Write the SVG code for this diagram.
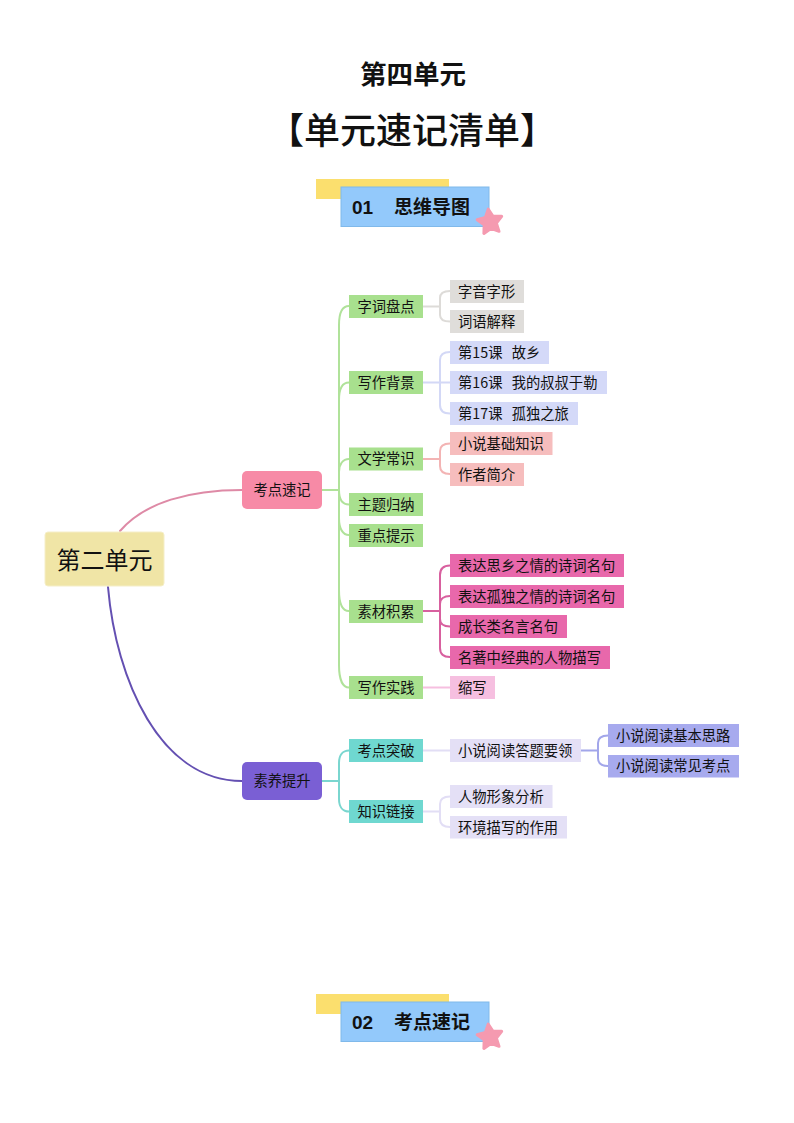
<svg xmlns="http://www.w3.org/2000/svg" width="794" height="1123" viewBox="0 0 794 1123">
<style>
text{font-family:"Noto Sans CJK SC","Liberation Sans",sans-serif;fill:#111;white-space:pre}
.t{font-size:14.300px}
.c{text-anchor:middle}
.l{fill:none;stroke-width:2;stroke-linecap:round}
.g{fill:#a8e08e}
.teal{fill:#6fd8d0}
.grey{fill:#dfddda}
.blue{fill:#d4d9f8}
.rose{fill:#f6bdbd}
.mag{fill:#e868ab}
.lp{fill:#f6bfe0}
.lav{fill:#e4e0f6}
.per{fill:#a7aaee}
.by{fill:#fbdf6e}
.bb{fill:#93c9fb;stroke:#80b9ea;stroke-width:1}
.bt{font-size:19px;font-weight:700}
.star{fill:#f59ab0;stroke:#f59ab0;stroke-width:3;stroke-linejoin:round}
</style>
<defs>
<path id="starShape" d="M-1.81-12.87L3.05-5.74L11.68-5.7L6.4 1.13L9.03 9.35L.9 6.44L-6.1 11.48L-5.84 2.85L-12.8-2.26L-4.52-4.68Z"/>
</defs>

<g id="titles">
<text x="413" y="84" class="c" style="font-size:26.500px;font-weight:700">第四单元</text>
<text x="412" y="144" class="c" style="font-size:36px;font-weight:500">【单元速记清单】</text>
</g>

<g id="banner-1">
<rect class="by" x="316" y="179" width="133" height="20"/>
<rect class="bb" x="341" y="187" width="148" height="39.500"/>
<text class="bt" x="352" y="214" style="font-family:'Liberation Sans',sans-serif">01</text>
<text class="bt" x="394" y="214">思维导图</text>
<use href="#starShape" class="star" x="490" y="222"/>
</g>

<g id="connectors">
<path class="l" stroke="#de8aa6" d="M120 531C145 502 190 490 242 490"/>
<path class="l" stroke="#6450b2" d="M108 587C116 680 160 781 242 781"/>
<g stroke="#b0e29a">
<path class="l" d="M322 490H338"/>
<path class="l" d="M349 306C343 306 339 312 339 325V490"/>
<path class="l" d="M349 382.500C343 382.500 339 388 339 400V490"/>
<path class="l" d="M349 459C343 459 339 464 339 472V490"/>
<path class="l" d="M349 504.500C343 504.500 339 500 339 490"/>
<path class="l" d="M349 535C343 535 339 529 339 518V490"/>
<path class="l" d="M349 611C343 611 339 604 339 590V490"/>
<path class="l" d="M349 687.500C343 687.500 339 680 339 665V490"/>
</g>
<g stroke="#7ad6cf">
<path class="l" d="M322 781H339"/>
<path class="l" d="M349 750.500C343 750.500 339 755 339 763V781"/>
<path class="l" d="M349 811.500C343 811.500 339 807 339 799V781"/>
</g>
<g stroke="#dddbd8">
<path class="l" d="M423 306.500H440"/>
<path class="l" d="M450 291C443 291 440 294 440 298V315C440 319 443 321.500 450 321.500"/>
</g>
<g stroke="#d3d8f6">
<path class="l" d="M423 382.500H450"/>
<path class="l" d="M450 352C443 352 440 355 440 360V405C440 410 443 413.500 450 413.500"/>
</g>
<g stroke="#f3b4b4">
<path class="l" d="M423 459H440"/>
<path class="l" d="M450 443.500C443 443.500 440 446 440 451V466C440 471 443 474 450 474"/>
</g>
<g stroke="#d8609f">
<path class="l" d="M423 611H440"/>
<path class="l" d="M450 565.500C443 565.500 440 569 440 575V648C440 654 443 657 450 657"/>
<path class="l" d="M450 596C444 596 440 599 440 604"/>
<path class="l" d="M450 626.500C444 626.500 440 624 440 619"/>
</g>
<path class="l" stroke="#f6bfe0" d="M423 687.500H450"/>
<path class="l" stroke="#e2def5" d="M423 750.500H450"/>
<g stroke="#e2def5">
<path class="l" d="M423 811.500H440"/>
<path class="l" d="M450 796.500C443 796.500 440 799 440 804V819C440 824 443 827 450 827"/>
</g>
<g stroke="#a2a6ea">
<path class="l" d="M581 750.500H598"/>
<path class="l" d="M608 735.500C601 735.500 598 738 598 743V758C598 763 601 766 608 766"/>
</g>
</g>

<g id="root"><rect x="45" y="532" width="119" height="54" rx="3" fill="#f0e5a6" stroke="#f5eec8" stroke-width="1"/><text x="104.500" y="569" class="c" style="font-size:24px">第二单元</text></g>
<g id="n-kaodian"><rect x="242" y="471" width="80" height="38" rx="5" fill="#f78aa6"/><text x="282" y="495" class="t c">考点速记</text></g>
<g id="n-suyang"><rect x="242" y="762" width="80" height="38" rx="5" fill="#7a5fd4"/><text x="282" y="786" class="t c">素养提升</text></g>

<g id="n-a1"><rect class="g" x="349" y="295" width="74" height="23"/><text x="386" y="311.500" class="t c">字词盘点</text></g>
<g id="n-a2"><rect class="g" x="349" y="371" width="74" height="23"/><text x="386" y="387.500" class="t c">写作背景</text></g>
<g id="n-a3"><rect class="g" x="349" y="447.500" width="74" height="23"/><text x="386" y="464" class="t c">文学常识</text></g>
<g id="n-a4"><rect class="g" x="349" y="493" width="74" height="23"/><text x="386" y="509.500" class="t c">主题归纳</text></g>
<g id="n-a5"><rect class="g" x="349" y="524" width="74" height="23"/><text x="386" y="540.500" class="t c">重点提示</text></g>
<g id="n-a6"><rect class="g" x="349" y="600" width="74" height="23"/><text x="386" y="616.500" class="t c">素材积累</text></g>
<g id="n-a7"><rect class="g" x="349" y="676" width="74" height="23"/><text x="386" y="692.500" class="t c">写作实践</text></g>
<g id="n-b1"><rect class="teal" x="349" y="739" width="74" height="23"/><text x="386" y="755.500" class="t c">考点突破</text></g>
<g id="n-b2"><rect class="teal" x="349" y="800" width="74" height="23"/><text x="386" y="816.500" class="t c">知识链接</text></g>

<g id="n-c1"><rect class="grey" x="450" y="280" width="74" height="23"/><text x="458" y="296.500" class="t">字音字形</text></g>
<g id="n-c2"><rect class="grey" x="450" y="310" width="74" height="23"/><text x="458" y="326.500" class="t">词语解释</text></g>
<g id="n-c3"><rect class="blue" x="450" y="341" width="99" height="23"/><text x="458" y="357.500" class="t">第15课 <tspan dx="6">故乡</tspan></text></g>
<g id="n-c4"><rect class="blue" x="450" y="371" width="157" height="23"/><text x="458" y="387.500" class="t">第16课 <tspan dx="6">我的叔叔于勒</tspan></text></g>
<g id="n-c5"><rect class="blue" x="450" y="402" width="128" height="23"/><text x="458" y="418.500" class="t">第17课 <tspan dx="6">孤独之旅</tspan></text></g>
<g id="n-c6"><rect class="rose" x="450" y="432" width="102.500" height="23"/><text x="458" y="448.500" class="t">小说基础知识</text></g>
<g id="n-c7"><rect class="rose" x="450" y="463" width="74" height="23"/><text x="458" y="479.500" class="t">作者简介</text></g>
<g id="n-c8"><rect class="mag" x="450" y="554" width="174" height="23"/><text x="458" y="570.500" class="t">表达思乡之情的诗词名句</text></g>
<g id="n-c9"><rect class="mag" x="450" y="585" width="174" height="23"/><text x="458" y="601.500" class="t">表达孤独之情的诗词名句</text></g>
<g id="n-c10"><rect class="mag" x="450" y="615" width="117" height="23"/><text x="458" y="631.500" class="t">成长类名言名句</text></g>
<g id="n-c11"><rect class="mag" x="450" y="646" width="160" height="23"/><text x="458" y="662.500" class="t">名著中经典的人物描写</text></g>
<g id="n-c12"><rect class="lp" x="450" y="676" width="45" height="23"/><text x="458" y="692.500" class="t">缩写</text></g>
<g id="n-c13"><rect class="lav" x="450" y="739" width="131" height="23"/><text x="458" y="755.500" class="t">小说阅读答题要领</text></g>
<g id="n-c14"><rect class="lav" x="450" y="785" width="102.500" height="23"/><text x="458" y="801.500" class="t">人物形象分析</text></g>
<g id="n-c15"><rect class="lav" x="450" y="816" width="117" height="22.500"/><text x="458" y="832.500" class="t">环境描写的作用</text></g>
<g id="n-d1"><rect class="per" x="608" y="724" width="131" height="23"/><text x="616" y="740.500" class="t">小说阅读基本思路</text></g>
<g id="n-d2"><rect class="per" x="608" y="755" width="131" height="22.500"/><text x="616" y="771" class="t">小说阅读常见考点</text></g>

<g id="banner-2">
<rect class="by" x="316" y="994" width="133" height="20"/>
<rect class="bb" x="341" y="1002" width="148" height="39.500"/>
<text class="bt" x="352" y="1029" style="font-family:'Liberation Sans',sans-serif">02</text>
<text class="bt" x="394" y="1029">考点速记</text>
<use href="#starShape" class="star" x="490" y="1037"/>
</g>
</svg>
